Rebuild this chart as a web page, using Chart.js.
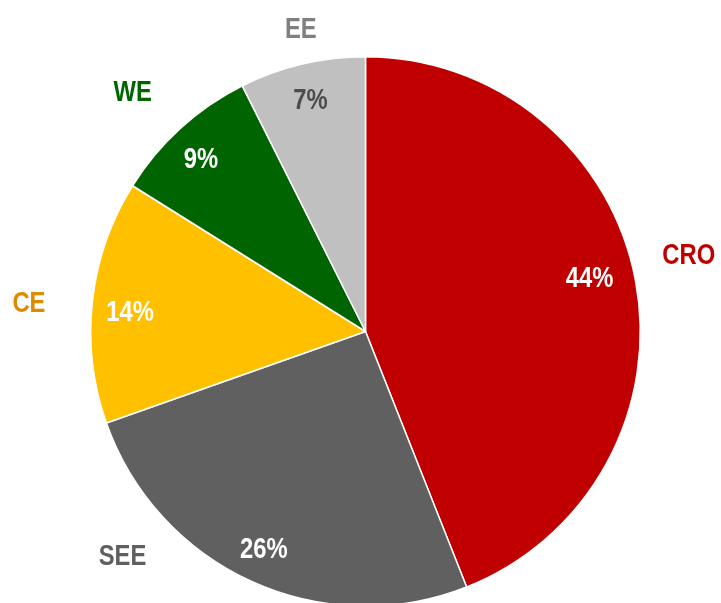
<!DOCTYPE html>
<html><head><meta charset="utf-8">
<script src="https://cdn.jsdelivr.net/npm/chart.js@4/dist/chart.umd.min.js"></script>
<style>
html,body{margin:0;padding:0;background:#fff;overflow:hidden;width:721px;height:603px}
#wrap{width:721px;height:603px;overflow:hidden;position:relative}
canvas{display:block}
</style></head><body>
<div id="wrap"><canvas id="c" width="721" height="664" style="width:721px;height:664px"></canvas></div>
<script>
const categories = ["CRO", "SEE", "CE", "WE", "EE"];
const shares = [44.0, 25.6, 14.3, 8.7, 7.4];
const shareLabels = ["44%", "26%", "14%", "9%", "7%"];
const sliceColors = ["#C00000", "#606060", "#FFC000", "#006400", "#C0C0C0"];
const nameColors = ["#C00000", "#5F5F5F", "#E08A00", "#006400", "#808080"];
const valueColors = ["#FFFFFF", "#FFFFFF", "#FFFFFF", "#FFFFFF", "#4D4D4D"];
// label placement relative to each slice's middle: [angle offset (deg), radius factor]
const namePlace = [[-2.7, 1.21], [23, 1.20], [-1.2, 1.23], [-1.7, 1.22], [1.3, 1.13]];
const valuePlace = [[-3.0, 0.84], [0.7, 0.87], [-1.2, 0.86], [-1.2, 0.87], [0, 0.87]];
const FONT = '"Liberation Sans", Arial, sans-serif';
const FSIZE = 29;
const NARROW = 0.82;

function drawNarrow(ctx, text, x, y) {
  ctx.save();
  ctx.translate(x, y + FSIZE * 0.716 / 2);
  ctx.scale(NARROW, 1);
  ctx.fillText(text, 0, 0);
  ctx.restore();
}

const labelPlugin = {
  id: 'sliceLabels',
  afterDatasetsDraw(chart) {
    const ctx = chart.ctx;
    const meta = chart.getDatasetMeta(0);
    ctx.save();
    ctx.textAlign = 'center';
    ctx.textBaseline = 'alphabetic';
    ctx.font = 'bold ' + FSIZE + 'px ' + FONT;
    meta.data.forEach((arc, i) => {
      const p = arc.getProps(['x','y','startAngle','endAngle','outerRadius'], true);
      const mid = (p.startAngle + p.endAngle) / 2;
      const r = p.outerRadius;
      const va = mid + valuePlace[i][0] * Math.PI / 180;
      const na = mid + namePlace[i][0] * Math.PI / 180;
      ctx.fillStyle = valueColors[i];
      drawNarrow(ctx, shareLabels[i], p.x + Math.cos(va) * r * valuePlace[i][1], p.y + Math.sin(va) * r * valuePlace[i][1]);
      ctx.fillStyle = nameColors[i];
      drawNarrow(ctx, categories[i], p.x + Math.cos(na) * r * namePlace[i][1], p.y + Math.sin(na) * r * namePlace[i][1]);
    });
    ctx.restore();
  }
};

new Chart(document.getElementById('c'), {
  type: 'pie',
  data: {
    labels: categories,
    datasets: [{
      data: shares,
      backgroundColor: sliceColors,
      borderColor: '#FFFFFF',
      borderWidth: 1.5
    }]
  },
  options: {
    responsive: false,
    animation: false,
    layout: { padding: { top: 56, bottom: 57, left: 90, right: 80 } },
    plugins: { legend: { display: false }, tooltip: { enabled: false } }
  },
  plugins: [labelPlugin]
});
</script>
</body></html>
